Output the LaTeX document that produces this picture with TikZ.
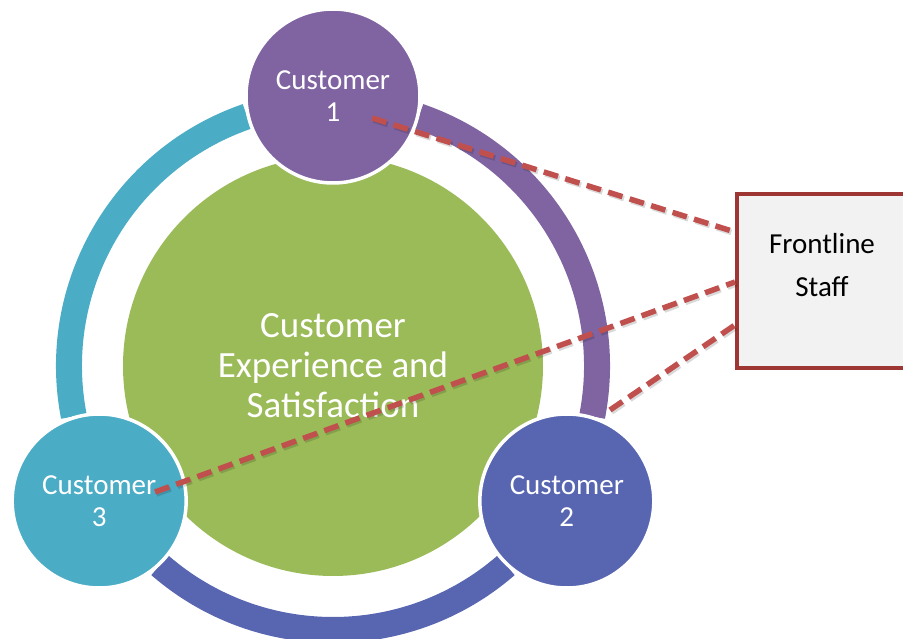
\documentclass[tikz,border=0pt]{standalone}
\usepackage{fontspec}
\setmainfont{Carlito}
\definecolor{cgreen}{RGB}{155,187,89}
\definecolor{cpurple}{RGB}{128,100,162}
\definecolor{cteal}{RGB}{75,172,198}
\definecolor{cblue}{RGB}{88,102,177}
\definecolor{dashred}{RGB}{192,80,77}
\definecolor{boxred}{RGB}{158,55,52}
\definecolor{boxfill}{RGB}{242,242,242}
\begin{document}
\begin{tikzpicture}[x=1pt,y=1pt,
  cust/.style={circle, minimum size=174pt, inner sep=0pt, draw=white, line width=3.5pt,
    text=white, align=center, font=\fontsize{29}{32}\selectfont},
  ringarc/.style={line width=26pt},
  dashline/.style={draw=dashred, line width=5.5pt, dash pattern=on 15pt off 7.5pt},
  dashshadow/.style={draw=black, opacity=0.15, line width=5.5pt, dash pattern=on 15pt off 7.5pt,
    transform canvas={shift={(1.5pt,-2pt)}}},
  staffbox/.style={draw=boxred, fill=boxfill, line width=4pt, minimum width=170pt,
    minimum height=174pt, inner sep=0pt}]
\useasboundingbox (0,0) rectangle (903,638);
\coordinate (ctr) at (333,272);
% core
\node[circle, fill=cgreen, minimum size=420pt, inner sep=0pt, text=white, align=center,
  font=\fontsize{37}{40}\selectfont] (core) at (ctr) {Customer\\Experience and\\Satisfaction};
% ring arcs
\draw[ringarc, cteal] ([shift={(109:264)}]ctr) arc[start angle=109, end angle=191, radius=264pt];
\draw[ringarc, cpurple] ([shift={(71:264)}]ctr) arc[start angle=71, end angle=-11, radius=264pt];
\draw[ringarc, cblue] ([shift={(229:264)}]ctr) arc[start angle=229, end angle=311, radius=264pt];
% customers
\node[cust, fill=cpurple] (c1) at ([shift={(90:270)}]ctr) {Customer\\1};
\node[cust, fill=cblue] (c2) at ([shift={(-30:270)}]ctr) {Customer\\2};
\node[cust, fill=cteal] (c3) at ([shift={(210:270)}]ctr) {Customer\\3};
% staff box
\node[staffbox] (staff) at (822,357) {};
\node[align=center, font=\fontsize{29}{43}\selectfont, text=black] (stafftext) at (822,373) {Frontline\\Staff};
% connectors
\coordinate (p1) at (372,520);
\coordinate (p2) at (155,146);
\coordinate (p3) at (610,228);
\coordinate (s1) at ([yshift=49pt]staff.west);
\coordinate (s2) at ([yshift=-1pt]staff.west);
\coordinate (s3) at ([yshift=-44pt]staff.west);
\draw[dashshadow] (p1) -- (s1);
\draw[dashshadow] (p2) -- (s2);
\draw[dashshadow] (p3) -- (s3);
\draw[dashline] (p1) -- (s1);
\draw[dashline] (p2) -- (s2);
\draw[dashline] (p3) -- (s3);
\end{tikzpicture}
\end{document}
